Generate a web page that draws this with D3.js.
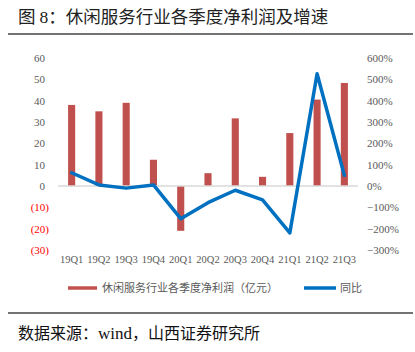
<!DOCTYPE html>
<html>
<head>
<meta charset="utf-8">
<script src="https://cdn.jsdelivr.net/npm/d3@7"></script>
<style>
  body { margin: 0; background: #fff; }
  svg { display: block; }
</style>
</head>
<body>
<div id="chart"></div>
<script>
// quarters and values
var quarters = ["19Q1", "19Q2", "19Q3", "19Q4", "20Q1", "20Q2", "20Q3", "20Q4", "21Q1", "21Q2", "21Q3"]
var profit = [38, 35, 39, 12.3, -21, 6, 31.7, 4.3, 24.8, 40.5, 48.3]   // 亿元
var growth = [62, 5, -10, 5, -153, -78, -20, -65, -220, 526, 50]      // %
var leftTicks = [-30, -20, -10, 0, 10, 20, 30, 40, 50, 60]
var rightTicks = [-300, -200, -100, 0, 100, 200, 300, 400, 500, 600]

var width = 415
var height = 352

var cjkFont = "'Noto Sans CJK SC', sans-serif"
var numFont = "'Liberation Serif', 'Times New Roman', serif"

var svg = d3.select("#chart")
  .append("svg")
  .attr("width", width)
  .attr("height", height)

// title + rules
var title = svg.append("text")
  .attr("x", 18)
  .attr("y", 23)
  .style("font-family", cjkFont)
  .style("font-size", "17.5px")
  .attr("fill", "#222")
title.append("tspan").text("图 ")
title.append("tspan").style("font-family", numFont).text("8")
title.append("tspan").text("：休闲服务行业各季度净利润及增速")

svg.append("line")
  .attr("x1", 8).attr("x2", 413)
  .attr("y1", 34).attr("y2", 34)
  .attr("stroke", "#444").attr("stroke-width", 1.3)

svg.append("line")
  .attr("x1", 8).attr("x2", 413)
  .attr("y1", 313).attr("y2", 313)
  .attr("stroke", "#444").attr("stroke-width", 1.3)

var source = svg.append("text")
  .attr("x", 18)
  .attr("y", 339)
  .style("font-family", cjkFont)
  .style("font-size", "16px")
  .attr("fill", "#111")
source.append("tspan").text("数据来源：")
source.append("tspan").style("font-family", numFont).style("font-size", "17px").text("wind")
source.append("tspan").text("，山西证券研究所")

// scales
var x = d3.scaleBand()
  .domain(quarters)
  .range([58, 358])
  .paddingInner(0.74)
  .paddingOuter(0.37)

var y = d3.scaleLinear().domain([-30, 60]).range([250, 58])
var y2 = d3.scaleLinear().domain([-300, 600]).range([250, 58])

// left axis labels
var leftAxis = svg.append("g")
  .attr("transform", "translate(45,0)")
  .call(d3.axisLeft(y).tickValues(leftTicks).tickSize(0).tickPadding(0)
    .tickFormat(d => d < 0 ? "(" + Math.abs(d) + ")" : d))
leftAxis.select(".domain").remove()
leftAxis.selectAll("text")
  .style("font-family", numFont)
  .style("font-size", "11px")
  .attr("fill", d => d < 0 ? "#FF0000" : "#595959")
  .attr("dx", d => d < 0 ? 4 : 0)

// right axis labels
var rightAxis = svg.append("g")
  .attr("transform", "translate(367,0)")
  .call(d3.axisRight(y2).tickValues(rightTicks).tickSize(0).tickPadding(0)
    .tickFormat(d => (d < 0 ? "\u2212" + Math.abs(d) : d) + "%"))
rightAxis.select(".domain").remove()
rightAxis.selectAll("text")
  .style("font-family", numFont)
  .style("font-size", "11px")
  .attr("fill", "#595959")

// x labels
var xAxis = svg.append("g")
  .attr("transform", "translate(0,256)")
  .call(d3.axisBottom(x).tickSize(0).tickPadding(0))
xAxis.select(".domain").remove()
xAxis.selectAll("text")
  .style("font-family", numFont)
  .style("font-size", "10.5px")
  .attr("fill", "#595959")

// bars
svg.append("g")
  .selectAll("rect")
  .data(profit)
  .enter().append("rect")
    .attr("x", (d, i) => x(quarters[i]))
    .attr("width", x.bandwidth())
    .attr("y", d => y(Math.max(0, d)))
    .attr("height", d => Math.abs(y(d) - y(0)))
    .attr("fill", "#C0504D")

// zero line
svg.append("line")
  .attr("x1", 58).attr("x2", 358)
  .attr("y1", y(0)).attr("y2", y(0))
  .attr("stroke", "#D9D9D9").attr("stroke-width", 1.5)

// growth line
var line = d3.line()
  .x((d, i) => x(quarters[i]) + x.bandwidth() / 2)
  .y(d => y2(d))

svg.append("path")
  .datum(growth)
  .attr("d", line)
  .attr("fill", "none")
  .attr("stroke", "#0070C0")
  .attr("stroke-width", 3.5)
  .attr("stroke-linejoin", "round")
  .attr("stroke-linecap", "round")

// legend
var legend = svg.append("g").style("font-family", cjkFont).style("font-size", "11px")
legend.append("line")
  .attr("x1", 68).attr("x2", 97).attr("y1", 288).attr("y2", 288)
  .attr("stroke", "#C0504D").attr("stroke-width", 3.5)
legend.append("text")
  .attr("x", 102).attr("y", 292)
  .attr("fill", "#595959")
  .text("休闲服务行业各季度净利润（亿元）")
legend.append("line")
  .attr("x1", 304).attr("x2", 336).attr("y1", 288).attr("y2", 288)
  .attr("stroke", "#0070C0").attr("stroke-width", 3.5)
legend.append("text")
  .attr("x", 340).attr("y", 292)
  .attr("fill", "#595959")
  .text("同比")
</script>
</body>
</html>
